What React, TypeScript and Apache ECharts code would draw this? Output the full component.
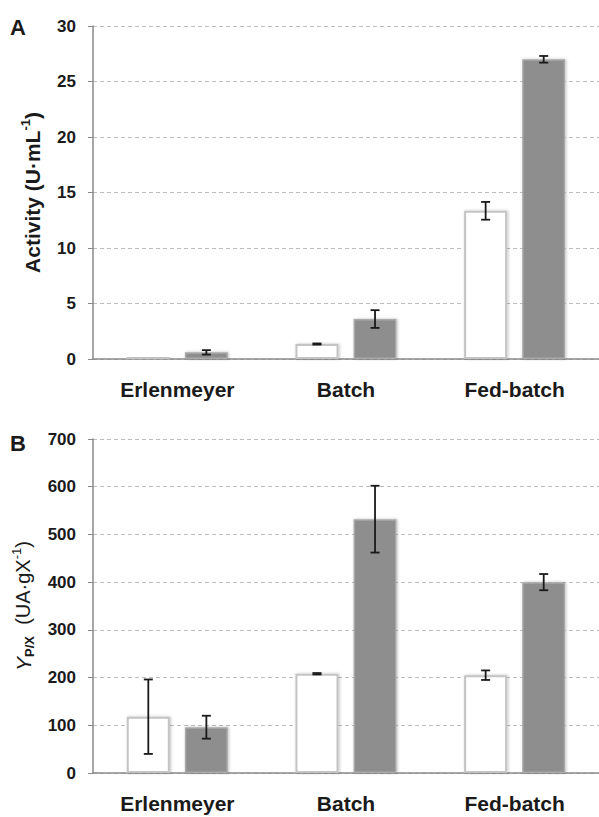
import React, { useEffect, useRef } from "react";
import * as echarts from "echarts";

const categories = ["Erlenmeyer", "Batch", "Fed-batch"];

const activityWhite = [0.2, 1.35, 13.35];
const activityWhiteErr = [0, 0.05, 0.8];
const activityGray = [0.6, 3.6, 27.0];
const activityGrayErr = [0.2, 0.8, 0.3];

const yieldWhite = [118, 208, 205];
const yieldWhiteErr = [78, 1.5, 10];
const yieldGray = [96, 532, 400];
const yieldGrayErr = [24, 70, 17];

const activityTicks = { min: 0, max: 30, interval: 5 };
const yieldTicks = { min: 0, max: 700, interval: 100 };

const FONT = "Liberation Sans, Arial, sans-serif";
const BAR_W = 0.255;
const BAR_GAP = 0.35;

function errSeries(grid: number, values: number[], errs: number[], side: number) {
  return {
    type: "custom",
    xAxisIndex: grid,
    yAxisIndex: grid,
    z: 5,
    data: values.map((v, i) => [i, v, errs[i]]),
    encode: { x: 0, y: 1 },
    renderItem: (params: any, api: any) => {
      const idx = api.value(0);
      const v = api.value(1);
      const e = api.value(2);
      if (!e) return { type: "group", children: [] };
      const band = api.size([1, 0])[0];
      const bw = band * BAR_W;
      const off = ((bw + bw * BAR_GAP) / 2) * side;
      const top = api.coord([idx, v + e]);
      const bot = api.coord([idx, v - e]);
      const x = top[0] + off;
      const cap = 4.5;
      const st = { stroke: "#1a1a1a", lineWidth: 1.8 };
      return {
        type: "group",
        children: [
          { type: "line", shape: { x1: x, y1: top[1], x2: x, y2: bot[1] }, style: st },
          { type: "line", shape: { x1: x - cap, y1: top[1], x2: x + cap, y2: top[1] }, style: st },
          { type: "line", shape: { x1: x - cap, y1: bot[1], x2: x + cap, y2: bot[1] }, style: st },
        ],
      };
    },
  };
}

function barSeries(grid: number, values: number[], white: boolean) {
  return {
    type: "bar",
    xAxisIndex: grid,
    yAxisIndex: grid,
    barWidth: BAR_W * 100 + "%",
    barGap: BAR_GAP * 100 + "%",
    data: values,
    itemStyle: white
      ? {
          color: "#ffffff",
          borderColor: "#c4c4c4",
          borderWidth: 2,
          shadowBlur: 3,
          shadowColor: "rgba(0,0,0,0.25)",
          shadowOffsetX: 1,
        }
      : {
          color: "#8e8e8e",
          borderColor: "#a9a9a9",
          borderWidth: 1.5,
          shadowBlur: 3,
          shadowColor: "rgba(0,0,0,0.25)",
          shadowOffsetX: 1,
        },
  };
}

function xAxis(grid: number) {
  return {
    type: "category",
    gridIndex: grid,
    data: categories,
    axisLine: { lineStyle: { color: "#8a8a8a", width: 1.5 } },
    axisTick: { show: false },
    axisLabel: {
      margin: 20,
      color: "#1a1a1a",
      fontSize: 21,
      fontWeight: "bold",
      fontFamily: FONT,
    },
  };
}

function yAxis(grid: number, ticks: any, name: string, rich: any, gap: number) {
  return {
    type: "value",
    gridIndex: grid,
    min: ticks.min,
    max: ticks.max,
    interval: ticks.interval,
    name,
    nameLocation: "middle",
    nameRotate: 90,
    nameGap: gap,
    nameTextStyle: { rich, fontFamily: FONT },
    axisLine: { show: true, lineStyle: { color: "#8a8a8a", width: 1.5 } },
    axisTick: { show: true, inside: false, length: 5, lineStyle: { color: "#8a8a8a" } },
    axisLabel: {
      margin: 17,
      color: "#1a1a1a",
      fontSize: 17,
      fontWeight: "bold",
      fontFamily: FONT,
    },
    splitLine: { show: true, lineStyle: { color: "#bdbdbd", type: [4, 3], width: 1 } },
  };
}

export default function App() {
  const ref = useRef<HTMLDivElement>(null);
  useEffect(() => {
    document.body.style.margin = "0";
    const chart = echarts.init(ref.current!, null, { renderer: "svg" });
    const richA = {
      a: { fontSize: 21, fontWeight: "bold", fontFamily: FONT, color: "#1a1a1a", lineHeight: 26 },
      sup: { fontSize: 13, fontWeight: "bold", fontFamily: FONT, color: "#1a1a1a", verticalAlign: "top", lineHeight: 15 },
    };
    const richB = {
      y: { fontSize: 21, fontStyle: "italic", fontFamily: FONT, color: "#1a1a1a", lineHeight: 26 },
      sub: { fontSize: 13, fontWeight: "bold", fontFamily: FONT, color: "#1a1a1a", verticalAlign: "bottom", lineHeight: 15 },
      b: { fontSize: 20, fontFamily: FONT, color: "#1a1a1a", lineHeight: 26 },
      sup: { fontSize: 13, fontFamily: FONT, color: "#1a1a1a", verticalAlign: "top", lineHeight: 15 },
    };
    chart.setOption({
      animation: false,
      backgroundColor: "#ffffff",
      grid: [
        { left: 93, top: 26, right: 0, height: 333 },
        { left: 93, top: 439, right: 0, height: 334 },
      ],
      xAxis: [xAxis(0), xAxis(1)],
      yAxis: [
        yAxis(0, activityTicks, "{a|Activity (U·mL}{sup|-1}{a|)}", richA, 48),
        yAxis(1, yieldTicks, "{y|Y}{sub|P/X}{b|  (UA·gX}{sup|-1}{b|)}", richB, 57),
      ],
      graphic: [
        { type: "text", left: 10, top: 16, style: { text: "A", fontSize: 22, fontWeight: "bold", fontFamily: FONT, fill: "#1a1a1a" } },
        { type: "text", left: 10, top: 432, style: { text: "B", fontSize: 22, fontWeight: "bold", fontFamily: FONT, fill: "#1a1a1a" } },
      ],
      series: [
        barSeries(0, activityWhite, true),
        barSeries(0, activityGray, false),
        errSeries(0, activityWhite, activityWhiteErr, -1),
        errSeries(0, activityGray, activityGrayErr, 1),
        barSeries(1, yieldWhite, true),
        barSeries(1, yieldGray, false),
        errSeries(1, yieldWhite, yieldWhiteErr, -1),
        errSeries(1, yieldGray, yieldGrayErr, 1),
      ],
    });
    return () => chart.dispose();
  }, []);
  return <div ref={ref} style={{ width: 599, height: 817 }} />;
}
